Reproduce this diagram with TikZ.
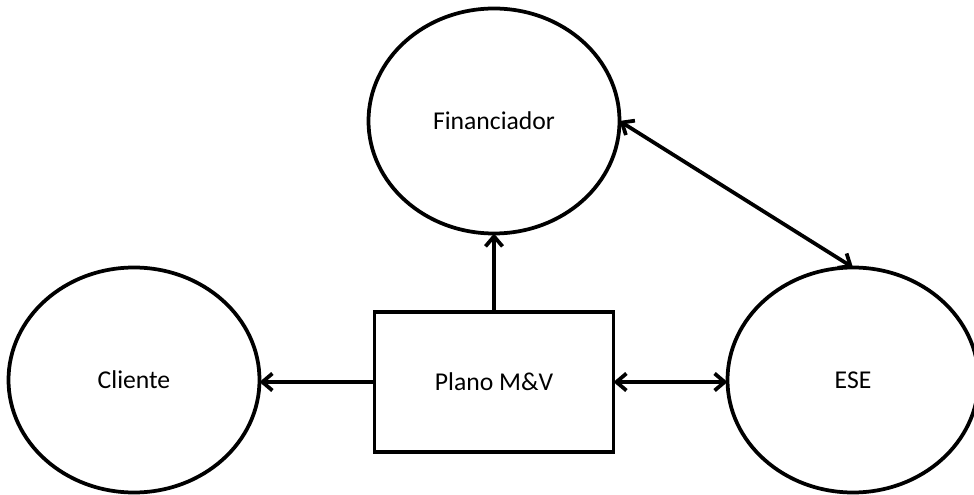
\documentclass[tikz,border=0pt]{standalone}
\usepackage{fontspec}
\setmainfont{Carlito}
\usetikzlibrary{arrows.meta,shapes.geometric}
\tikzset{
  party/.style={draw, ellipse, line width=0.075cm, inner sep=0pt, outer sep=0pt,
                minimum width=5.02cm, minimum height=4.5cm, font=\fontsize{14.6}{16}\selectfont},
  planbox/.style={draw, rectangle, line width=0.075cm, inner sep=0pt, outer sep=0pt,
                  minimum width=4.78cm, minimum height=2.8cm, font=\fontsize{14.6}{16}\selectfont},
  flow/.style={-{Straight Barb[length=2mm, width=3.4mm]}, line width=0.075cm},
  bothflow/.style={{Straight Barb[length=2mm, width=3.4mm]}-{Straight Barb[length=2mm, width=3.4mm]}, line width=0.075cm},
}
\begin{document}
\begin{tikzpicture}
  \useasboundingbox (0,0) rectangle (19.48,9.9);
  \node[party] (fin) at (9.88,7.48) {Financiador};
  \node[party] (cli) at (2.68,2.30) {Cliente};
  \node[party] (ese) at (17.06,2.30) {ESE};
  \node[planbox] (plano) at (9.88,2.26) {Plano M\&V};
  % ligacoes
  \draw[flow] (plano.west) -- (plano.west -| cli.east);
  \draw[flow] (plano.north) -- (fin.south);
  \draw[bothflow] (plano.east) -- (plano.east -| ese.west);
  \draw[bothflow] (fin.east) -- (ese.north);
\end{tikzpicture}
\end{document}
